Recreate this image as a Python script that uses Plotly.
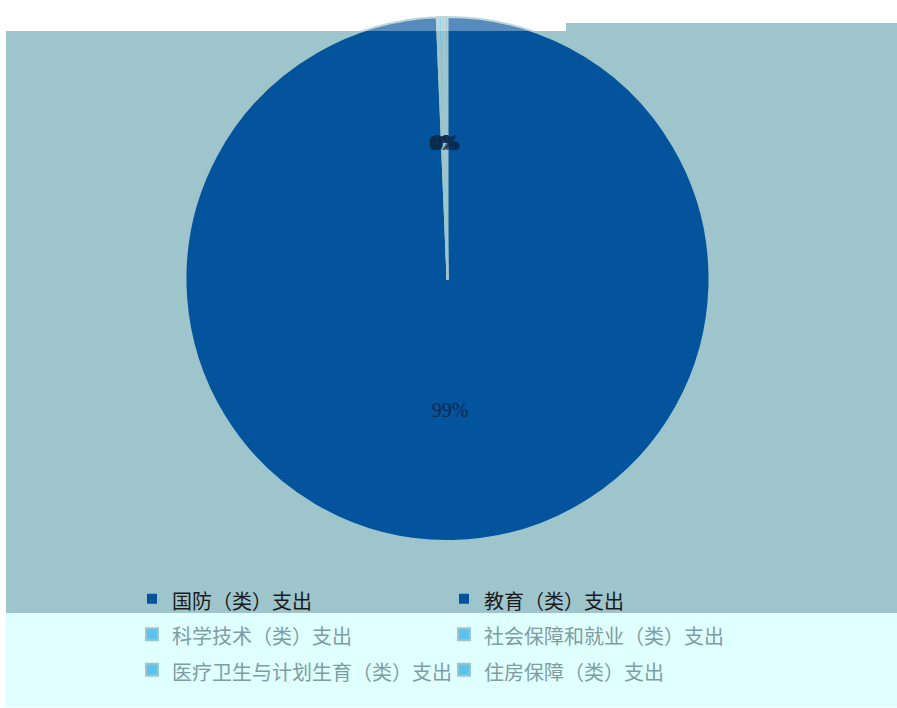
import plotly.graph_objects as go

# ---- data ----
categories = ["国防（类）支出", "教育（类）支出", "科学技术（类）支出",
              "社会保障和就业（类）支出", "医疗卫生与计划生育（类）支出", "住房保障（类）支出"]
values = [0.15, 99.35, 0.12, 0.20, 0.08, 0.10]
slice_colors = ["#03539D", "#03539D", "#5BC3EF", "#5BC3EF", "#5BC3EF", "#5BC3EF"]
legend_text_colors = ["#1a1a1a", "#1a1a1a", "#7d9da3", "#7d9da3", "#7d9da3", "#7d9da3"]
big_label = [False, True, False, False, False, False]

W, H = 897, 708
TEAL = "#9DC5CB"
CYAN = "#E0FFFF"

labels = [f'<span style="color:{c};font-size:20px">{t}</span>'
          for t, c in zip(categories, legend_text_colors)]


def px(x):
    return x / W


def py(y):
    return 1 - y / H


cx, cy, r = 447.5, 279, 262   # page pixels
r_lab = 137                   # radius of label carrier pie


def dom(rad):
    return dict(x=[px(cx - rad), px(cx + rad)], y=[py(cy + rad), py(cy - rad)])


pct = "%{percent:.0%}"

fig = go.Figure()
fig.add_trace(go.Pie(
    labels=labels,
    values=values,
    sort=False,
    direction="clockwise",
    rotation=-0.54,
    marker=dict(colors=slice_colors, line=dict(color=TEAL, width=2)),
    texttemplate=[pct if b else "" for b in big_label],
    textposition="inside",
    insidetextorientation="horizontal",
    textfont=dict(family="Liberation Serif", size=20, color="#0c2a4c"),
    domain=dom(r),
    hoverinfo="label+percent",
))
# transparent companion pie carrying the small-slice percentage labels
fig.add_trace(go.Pie(
    labels=labels,
    values=values,
    sort=False,
    direction="clockwise",
    rotation=-0.54,
    marker=dict(colors=["rgba(0,0,0,0)"] * len(values), line=dict(width=0)),
    texttemplate=["" if b else pct for b in big_label],
    textposition="inside",
    insidetextorientation="horizontal",
    textfont=dict(family="Liberation Serif", size=20, color="#0c2a4c"),
    domain=dom(r_lab),
    showlegend=False,
    hoverinfo="skip",
))

shapes = [
    dict(type="rect", xref="paper", yref="paper", x0=px(6), x1=1.01, y0=py(613), y1=py(31),
         fillcolor=TEAL, line=dict(width=0), layer="below"),
    dict(type="rect", xref="paper", yref="paper", x0=px(566), x1=1.01, y0=py(31), y1=py(23),
         fillcolor=TEAL, line=dict(width=0), layer="below"),
    dict(type="rect", xref="paper", yref="paper", x0=px(6), x1=1.01, y0=py(707), y1=py(613),
         fillcolor=CYAN, line=dict(width=0), layer="below"),
    dict(type="rect", xref="paper", yref="paper", x0=-0.01, x1=px(566), y0=py(31), y1=1.02,
         fillcolor="white", opacity=0.33, line=dict(width=0), layer="above"),
    dict(type="rect", xref="paper", yref="paper", x0=px(566), x1=1.01, y0=py(23), y1=1.02,
         fillcolor="white", opacity=0.33, line=dict(width=0), layer="above"),
]

fig.update_layout(
    width=W, height=H,
    margin=dict(l=0, r=0, t=0, b=0),
    paper_bgcolor="white",
    plot_bgcolor="white",
    shapes=shapes,
    showlegend=True,
    legend=dict(
        orientation="h",
        x=px(132), xanchor="left",
        y=py(576), yanchor="top",
        entrywidth=267, entrywidthmode="pixels",
        font=dict(family="Noto Sans CJK SC", size=25, color="#1a1a1a"),
        bgcolor="rgba(0,0,0,0)",
        traceorder="normal",
    ),
    uniformtext=dict(minsize=20, mode="show"),
)

fig.write_html(
    "out.html",
    config={"displayModeBar": False},
    post_script="document.body.style.margin='0px';"
                "document.documentElement.style.overflow='hidden';"
                "document.body.style.overflow='hidden';",
)
